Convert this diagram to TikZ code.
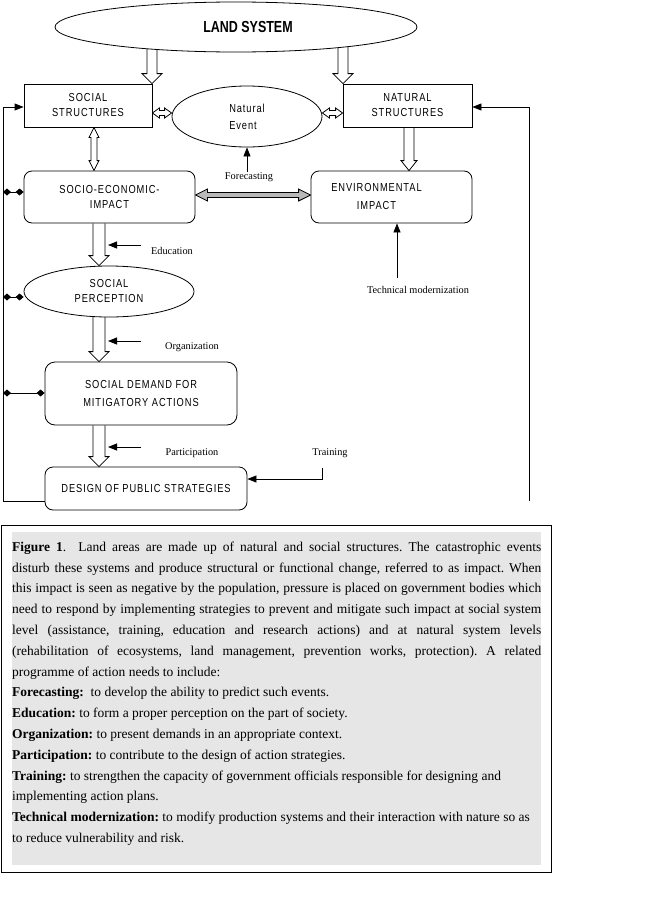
\documentclass[tikz,border=0pt]{standalone}
\usepackage{fontspec}
\setmainfont{Liberation Serif}
\newfontfamily\boxfont[FakeStretch=0.8,LetterSpace=8]{Liberation Sans}
\newfontfamily\landfont[FakeStretch=0.78]{Liberation Sans}
\usetikzlibrary{shapes.geometric,arrows.meta,calc,backgrounds}
\definecolor{capgray}{HTML}{E6E6E6}
\frenchspacing
\tikzset{
  box/.style={draw, line width=0.8pt, inner sep=0pt, align=center, fill=white,
    font=\boxfont\fontsize{11.6}{15}\selectfont},
  rbox/.style={box, rounded corners=8pt},
  ell/.style={box, ellipse},
  lab/.style={inner sep=0pt, font=\fontsize{10.3}{12}\selectfont},
  fa/.style={line width=0.8pt, -{Triangle[length=9pt,width=7pt]}},
  dia/.style={line width=0.8pt, {Diamond[length=8pt,width=7pt]}-{Diamond[length=8pt,width=7pt]}},
  hollow/.style={draw, line width=0.8pt, fill=white, line join=miter},
}
% hollow arrow pointing down: x, from, to, shaft half width, head half width
\newcommand\hdown[5]{%
  \coordinate (hA) at (#1,0 |- #2); \coordinate (hB) at (#1,0 |- #3);
  \draw[hollow] ($(hA)+(-#4,0)$) -- ($(hB)+(-#4,-10)$) -- ($(hB)+(-#5,-10)$) -- (hB)
    -- ($(hB)+(#5,-10)$) -- ($(hB)+(#4,-10)$) -- ($(hA)+(#4,0)$);}
% hollow double-headed vertical arrow
\newcommand\hvboth[5]{%
  \coordinate (hA) at (#1,0 |- #2); \coordinate (hB) at (#1,0 |- #3);
  \draw[hollow] (hA) -- ($(hA)+(#5,10)$) -- ($(hA)+(#4,10)$) -- ($(hB)+(#4,-10)$)
    -- ($(hB)+(#5,-10)$) -- (hB) -- ($(hB)+(-#5,-10)$) -- ($(hB)+(-#4,-10)$)
    -- ($(hA)+(-#4,10)$) -- ($(hA)+(-#5,10)$) -- cycle;}
% hollow double-headed horizontal arrow: [style] y, left, right, shaft hw, head hw, head length
\newcommand\hhboth[7][]{%
  \coordinate (hA) at (#3 |- 0,#2); \coordinate (hB) at (#4 |- 0,#2);
  \draw[hollow,#1] (hA) -- ($(hA)+(#7,-#6)$) -- ($(hA)+(#7,-#5)$) -- ($(hB)+(-#7,-#5)$)
    -- ($(hB)+(-#7,-#6)$) -- (hB) -- ($(hB)+(-#7,#6)$) -- ($(hB)+(-#7,#5)$)
    -- ($(hA)+(#7,#5)$) -- ($(hA)+(#7,#6)$) -- cycle;}
\begin{document}
\begin{tikzpicture}[x=1pt,y=-1pt]
\useasboundingbox (0,0) rectangle (648,905);

% nodes
\node[ell, minimum width=362pt, minimum height=50pt] (land) at (236,27)
  {\hspace*{24pt}\landfont\bfseries\fontsize{16}{18}\selectfont LAND SYSTEM};
\node[box, minimum width=128pt, minimum height=43pt] (ss) at (88,105.5) {SOCIAL\\STRUCTURES};
\node[ell, align=left, minimum width=150pt, minimum height=61pt] (ne) at (247,116.5) {Natural\\[2pt]Event};
\node[box, minimum width=129pt, minimum height=43pt] (ns) at (407.5,105.5) {NATURAL\\STRUCTURES};
\node[rbox, minimum width=171pt, minimum height=52pt] (se) at (109.5,197) {SOCIO-ECONOMIC-\\IMPACT};
\node[rbox, minimum width=161pt, minimum height=52pt] (env) at (391.5,197)
  {ENVIRONMENTAL\hspace*{30pt}\\[3pt]IMPACT\hspace*{30pt}};
\node[ell, minimum width=170pt, minimum height=51pt] (sp) at (109,291.5) {SOCIAL\\PERCEPTION};
\node[rbox, rounded corners=10pt, minimum width=192pt, minimum height=63pt] (sd) at (141,393.5)
  {SOCIAL DEMAND FOR\\[3pt]MITIGATORY ACTIONS};
\node[rbox, minimum width=202pt, minimum height=43pt] (ds) at (146,488.5) {DESIGN OF PUBLIC STRATEGIES};

% labels
\node[lab] (fc) at (249,177) {Forecasting};
\node[lab] (ed) at (172,251) {Education};
\node[lab] (tm) at (418,290) {Technical modernization};
\node[lab] (og) at (192,347) {Organization};
\node[lab] (pa) at (192,453) {Participation};
\node[lab] (tr) at (330,453) {Training};

% hollow arrows on background
\begin{pgfonlayer}{background}
  \fill[white] (0,0) rectangle (648,905);
  \hdown{152}{land.center}{ss.north}{5}{10}
  \hdown{343}{land.center}{ns.north}{5}{10}
  \hvboth{94}{ss.south}{se.north}{3}{5}
  \hdown{409}{ns.south}{env.north}{5}{8}
  \hdown{99}{se.south}{sp.north}{6}{10}
  \hdown{99}{sp.center}{sd.north}{6}{10}
  \hdown{99}{sd.south}{ds.north}{6}{10}
  \hhboth{113}{ss.east}{ne.west}{2.5}{5}{7}
  \hhboth{113}{ne.east}{ns.west}{2.5}{5}{7}
  \hhboth[fill=gray!55]{195}{se.east}{env.west}{2.5}{6}{12}
\end{pgfonlayer}

% filled arrows
\draw[fa] (fc.north -| ne.south) -- (ne.south);
\coordinate (edA) at (141,245); \coordinate (edB) at (108,245);
\draw[fa] (edA) -- (edB);
\coordinate (ogA) at (141,341); \coordinate (ogB) at (108,341);
\draw[fa] (ogA) -- (ogB);
\coordinate (paA) at (141,447); \coordinate (paB) at (108,447);
\draw[fa] (paA) -- (paB);
\coordinate (tmA) at (397,278);
\draw[fa] (tmA) -- (tmA |- env.south);
\coordinate (trA) at (322,468);
\draw[fa] (trA) |- (ds.east |- 0,479);

% feedback lines
\draw[fa] (ds.west |- 0,501) -| (3,107) -- (ss.west |- 0,107);
\coordinate (rEnd) at (529,501);
\draw[fa] (rEnd) |- (ns.east |- 0,107);

% diamond connectors
\draw[dia] (3,192) -- (se.west |- 0,192);
\draw[dia] (3,297) -- (sp.west |- 0,297);
\draw[dia] (3,393) -- (sd.west |- 0,393);

% caption
\node[draw, line width=1.2pt, inner sep=0pt, minimum width=550pt, minimum height=347pt, anchor=north west]
  (frame) at (0.6,524.6) {};
\node[fill=capgray, inner sep=0pt, minimum width=529pt, minimum height=333pt, anchor=north west]
  (capbg) at (12,532) {};
\node[anchor=north west, inner sep=0pt, align=left, font=\fontsize{13.5}{20.8}\selectfont] (captext) at (12,541.5) {%
\makebox[529pt][s]{\textbf{Figure 1}.\ \ Land areas are made up of natural and social structures. The catastrophic events}\\
\makebox[529pt][s]{disturb these systems and produce structural or functional change, referred to as impact. When}\\
\makebox[529pt][s]{this impact is seen as negative by the population, pressure is placed on government bodies which}\\
\makebox[529pt][s]{need to respond by implementing strategies to prevent and mitigate such impact at social system}\\
\makebox[529pt][s]{level (assistance, training, education and research actions) and at natural system levels}\\
\makebox[529pt][s]{(rehabilitation of ecosystems, land management, prevention works, protection). A related}\\
programme of action needs to include:\\
\textbf{Forecasting:}\ \ to develop the ability to predict such events.\\
\textbf{Education:} to form a proper perception on the part of society.\\
\textbf{Organization:} to present demands in an appropriate context.\\
\textbf{Participation:} to contribute to the design of action strategies.\\
\textbf{Training:} to strengthen the capacity of government officials responsible for designing and\\
implementing action plans.\\
\textbf{Technical modernization:} to modify production systems and their interaction with nature so as\\
to reduce vulnerability and risk.};
\end{tikzpicture}
\end{document}
